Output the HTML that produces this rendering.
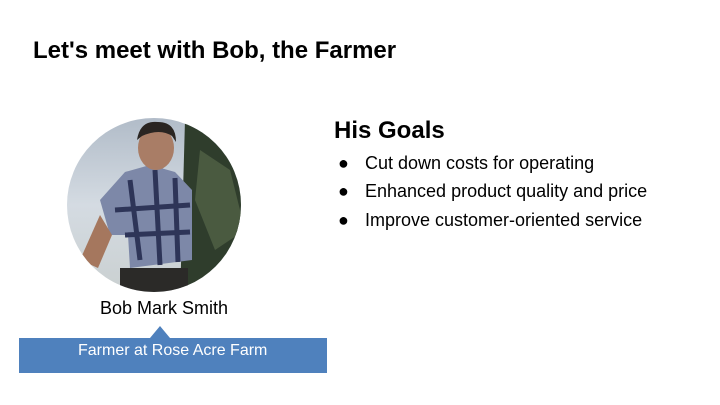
<!DOCTYPE html>
<html><head><meta charset="utf-8"><style>
body{margin:0;width:720px;height:405px;background:#fff;position:relative;overflow:hidden;font-family:"Liberation Sans",sans-serif;color:#000}
.t{position:absolute;white-space:nowrap}
</style></head><body>
<div class="t" style="left:33px;top:37px;font-size:24px;font-weight:bold">Let's meet with Bob, the Farmer</div>
<svg style="position:absolute;left:0;top:0" width="720" height="405">
<defs><clipPath id="c"><circle cx="154" cy="205" r="87"/></clipPath>
<linearGradient id="sky" x1="0" y1="0" x2="0" y2="1"><stop offset="0" stop-color="#aeb9c6"/><stop offset="0.5" stop-color="#d4dbe2"/><stop offset="1" stop-color="#c9cfcf"/></linearGradient></defs>
<g clip-path="url(#c)">
<rect x="60" y="110" width="190" height="190" fill="url(#sky)"/>
<path d="M185 120 L250 130 L250 300 L180 300 Z" fill="#2f3d2c"/>
<path d="M200 150 L230 170 L245 230 L215 250 L195 200 Z" fill="#4a5a40"/>
<rect x="120" y="268" width="68" height="30" fill="#2b2a28"/>
<path d="M100 200 L125 172 L150 165 L175 172 L192 190 L192 260 L130 268 L128 235 L110 235 Z" fill="#7d88a8"/>
<path d="M130 180 L140 260 M155 170 L160 265 M175 178 L178 262 M115 210 L190 205 M125 235 L190 232" stroke="#2e3558" stroke-width="5"/>
<path d="M80 260 L100 215 L112 235 L98 268 Z" fill="#a5775e"/>
<ellipse cx="156" cy="148" rx="18" ry="22" fill="#a97d66"/>
<path d="M137 140 Q140 120 158 122 Q176 122 176 142 L172 136 Q160 128 142 136 Z" fill="#2a2522"/>
</g></svg>
<div class="t" style="left:100px;top:298px;font-size:18px">Bob Mark Smith</div>
<svg style="position:absolute;left:0;top:0" width="720" height="405"><path d="M19 338 L150 338 L160 326 L170 338 L327 338 L327 373 L19 373 Z" fill="#4f81bd"/></svg>
<div class="t" style="left:78px;top:342px;font-size:16px;color:#fff">Farmer at Rose Acre Farm</div>
<div class="t" style="left:334px;top:117px;font-size:24px;font-weight:bold">His Goals</div>
<div>
<div class="t" style="left:338px;top:153px;font-size:18px">●<span style="position:absolute;left:27px">Cut down costs for operating</span></div>
<div class="t" style="left:338px;top:181px;font-size:18px">●<span style="position:absolute;left:27px">Enhanced product quality and price</span></div>
<div class="t" style="left:338px;top:210px;font-size:18px">●<span style="position:absolute;left:27px">Improve customer-oriented service</span></div>
</div>
</body></html>
